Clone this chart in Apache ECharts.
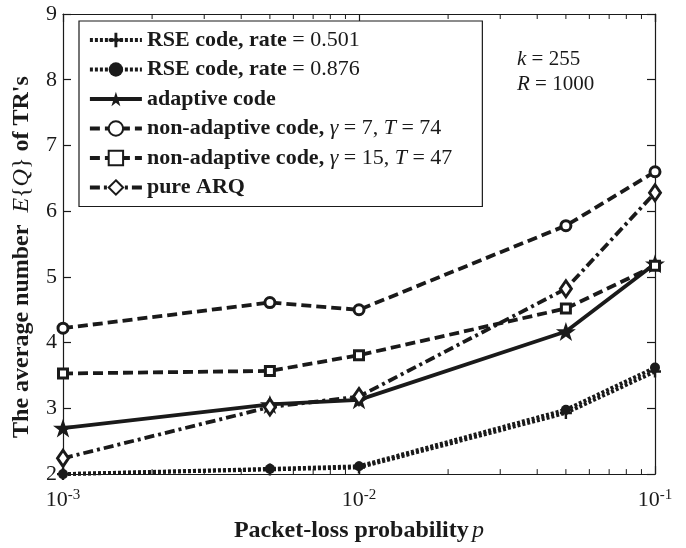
<!DOCTYPE html>
<html>
<head>
<meta charset="utf-8">
<script src="https://cdn.jsdelivr.net/npm/echarts@6/dist/echarts.min.js"></script>
<style>
  html, body { margin: 0; padding: 0; background: #fff; }
  #chart { width: 686px; height: 548px; }
</style>
</head>
<body>
<div id="chart"></div>
<script>
// Packet-loss probabilities (x positions, log scale)
const lossProb = [0.001, 0.005, 0.01, 0.05, 0.1];

// Average number of transmission rounds E{Q}
const rse0501     = [2.00, 2.07, 2.10, 2.93, 3.56];
const rse0876     = [2.00, 2.08, 2.12, 2.98, 3.62];
const adaptive    = [2.70, 3.06, 3.13, 4.17, 5.20];
const nonAdapt7   = [4.22, 4.61, 4.50, 5.78, 6.60];
const nonAdapt15  = [3.53, 3.57, 3.81, 4.52, 5.17];
const pureARQ     = [2.24, 3.02, 3.18, 4.82, 6.28];

// Minor tick positions on the log axis
const minorTicks = [0.002, 0.003, 0.004, 0.005, 0.006, 0.007, 0.008, 0.009,
                    0.02, 0.03, 0.04, 0.05, 0.06, 0.07, 0.08, 0.09];

const seriesNames = [
  'RSE code, rate = 0.501',
  'RSE code, rate = 0.876',
  'adaptive code',
  'non-adaptive code, γ = 7, T = 74',
  'non-adaptive code, γ = 15, T = 47',
  'pure ARQ'
];

const serif = '"Liberation Serif", "DejaVu Serif", serif';
const ink = '#1a1a1a';
const LW = 3.8;
const pairs = v => lossProb.map((x, i) => [x, v[i]]);
const plusPath = 'path://M4,0H6V4H10V6H6V10H4V6H0V4H4Z';
const starPath = 'path://M50,0 L61.8,35.4 L99,35.4 L69,57.3 L80.4,92.7 L50,70.8 L19.6,92.7 L31,57.3 L1,35.4 L38.2,35.4 Z';

const chart = echarts.init(document.getElementById('chart'));

function lineSeries(name, data, opts) {
  return Object.assign({
    name: name,
    type: 'line',
    data: pairs(data),
    xAxisIndex: 0,
    yAxisIndex: 0,
    z: 3,
    color: ink,
    symbolKeepAspect: true,
    animation: false
  }, opts);
}

const LF = 22;
const legendRich = {
  b: { fontFamily: serif, fontWeight: 'bold', fontSize: LF, color: ink },
  r: { fontFamily: serif, fontWeight: 'normal', fontSize: LF, color: ink },
  i: { fontFamily: serif, fontStyle: 'italic', fontWeight: 'normal', fontSize: LF, color: ink }
};

function legendLabel(name) {
  switch (name) {
    case seriesNames[0]: return '{b|RSE code, rate} {r|= 0.501}';
    case seriesNames[1]: return '{b|RSE code, rate} {r|= 0.876}';
    case seriesNames[2]: return '{b|adaptive code}';
    case seriesNames[3]: return '{b|non-adaptive code,} {i|γ}{r| = 7, }{i|T}{r| = 74}';
    case seriesNames[4]: return '{b|non-adaptive code,} {i|γ}{r| = 15, }{i|T}{r| = 47}';
    default: return '{b|pure ARQ}';
  }
}

const axisLineStyle = { color: ink, width: 1.2 };
const NF = 24;

chart.setOption({
  backgroundColor: '#ffffff',
  animation: false,
  grid: { left: 63, right: 31, top: 14, bottom: 68 },
  legend: {
    data: seriesNames,
    orient: 'vertical',
    left: 79,
    top: 21,
    padding: [8, 30, 8, 9],
    itemGap: 7.5,
    itemWidth: 52,
    itemHeight: 18,
    borderColor: ink,
    borderWidth: 1.2,
    backgroundColor: '#ffffff',
    lineStyle: { width: LW },
    formatter: legendLabel,
    textStyle: { rich: legendRich, fontFamily: serif, fontSize: LF, lineHeight: 22 },
    selectedMode: false
  },
  xAxis: [
    {
      type: 'log',
      logBase: 10,
      min: 0.001,
      max: 0.1,
      position: 'bottom',
      name: '{b|Packet-loss probability} {i|p}',
      nameLocation: 'middle',
      nameGap: 38,
      nameTextStyle: {
        rich: {
          b: { fontFamily: serif, fontWeight: 'bold', fontSize: NF, color: ink },
          i: { fontFamily: serif, fontStyle: 'italic', fontSize: NF, color: ink }
        }
      },
      axisLine: { show: true, lineStyle: axisLineStyle },
      axisTick: { show: true, inside: true, length: 8, lineStyle: axisLineStyle },
      splitLine: { show: false },
      axisLabel: {
        margin: 13,
        formatter: v => '{n|10}{s|' + Math.round(Math.log10(v)) + '}',
        rich: {
          n: { fontFamily: serif, fontSize: 22, color: ink, verticalAlign: 'bottom', lineHeight: 24 },
          s: { fontFamily: serif, fontSize: 15, color: ink, verticalAlign: 'top', lineHeight: 24, padding: [0, 0, 12, 0] }
        }
      }
    },
    {
      type: 'log',
      logBase: 10,
      min: 0.001,
      max: 0.1,
      position: 'top',
      axisLine: { show: true, lineStyle: axisLineStyle },
      axisTick: { show: true, inside: true, length: 8, lineStyle: axisLineStyle },
      axisLabel: { show: false },
      splitLine: { show: false }
    }
  ],
  yAxis: [
    {
      type: 'value',
      min: 2,
      max: 9,
      interval: 1,
      position: 'left',
      name: '{b|The average number}  {i|E}{{i|Q}} {b|of TR\'s}',
      nameLocation: 'middle',
      nameRotate: 90,
      nameGap: 29,
      nameTextStyle: {
        fontFamily: serif,
        fontSize: NF,
        color: ink,
        padding: [0, 26, 0, 0],
        rich: {
          b: { fontFamily: serif, fontWeight: 'bold', fontSize: NF, color: ink },
          i: { fontFamily: serif, fontStyle: 'italic', fontSize: NF, color: ink }
        }
      },
      axisLine: { show: true, lineStyle: axisLineStyle },
      axisTick: { show: true, inside: true, length: 8, lineStyle: axisLineStyle },
      splitLine: { show: false },
      axisLabel: { margin: 6, fontFamily: serif, fontSize: 22, color: ink }
    },
    {
      type: 'value',
      min: 2,
      max: 9,
      interval: 1,
      position: 'right',
      axisLine: { show: true, lineStyle: axisLineStyle },
      axisTick: { show: true, inside: true, length: 8, lineStyle: axisLineStyle },
      axisLabel: { show: false },
      splitLine: { show: false }
    }
  ],
  graphic: [
    {
      type: 'text',
      left: 517,
      top: 47,
      style: {
        text: '{i|k} = 255\n{i|R} = 1000',
        font: '21px ' + serif,
        fill: ink,
        lineHeight: 25,
        rich: {
          i: { fontFamily: serif, fontStyle: 'italic', fontSize: 21, fill: ink }
        }
      }
    }
  ],
  series: [
    // minor ticks on the bottom and top log axes
    {
      type: 'custom',
      xAxisIndex: 0,
      yAxisIndex: 0,
      silent: true,
      data: minorTicks.map(v => [v, 2]),
      renderItem: function (params, api) {
        const x = api.coord([api.value(0), 2])[0];
        const cs = params.coordSys;
        const st = { stroke: ink, lineWidth: 1 };
        return {
          type: 'group',
          children: [
            { type: 'line', shape: { x1: x, y1: cs.y + cs.height, x2: x, y2: cs.y + cs.height - 5 }, style: st },
            { type: 'line', shape: { x1: x, y1: cs.y, x2: x, y2: cs.y + 5 }, style: st }
          ]
        };
      }
    },
    lineSeries(seriesNames[0], rse0501, {
      symbol: plusPath,
      symbolSize: 12,
      itemStyle: { color: ink, borderWidth: 0 },
      lineStyle: { color: ink, width: LW, type: [3, 2] }
    }),
    lineSeries(seriesNames[1], rse0876, {
      symbol: 'circle',
      symbolSize: 10,
      itemStyle: { color: ink, borderWidth: 0 },
      lineStyle: { color: ink, width: LW, type: [3, 2] }
    }),
    lineSeries(seriesNames[2], adaptive, {
      symbol: starPath,
      symbolSize: 20,
      itemStyle: { color: ink, borderWidth: 0 },
      lineStyle: { color: ink, width: LW, type: 'solid' }
    }),
    lineSeries(seriesNames[3], nonAdapt7, {
      symbol: 'circle',
      symbolSize: 10,
      itemStyle: { color: '#ffffff', borderColor: ink, borderWidth: 3 },
      lineStyle: { color: ink, width: LW, type: [10, 5] }
    }),
    lineSeries(seriesNames[4], nonAdapt15, {
      symbol: 'rect',
      symbolSize: 9,
      itemStyle: { color: '#ffffff', borderColor: ink, borderWidth: 3 },
      lineStyle: { color: ink, width: LW, type: [10, 5] }
    }),
    lineSeries(seriesNames[5], pureARQ, {
      symbol: 'diamond',
      symbolSize: [11, 16],
      symbolKeepAspect: false,
      itemStyle: { color: '#ffffff', borderColor: ink, borderWidth: 3 },
      lineStyle: { color: ink, width: LW, type: [10, 4, 3, 4] }
    })
  ]
});
</script>
</body>
</html>
